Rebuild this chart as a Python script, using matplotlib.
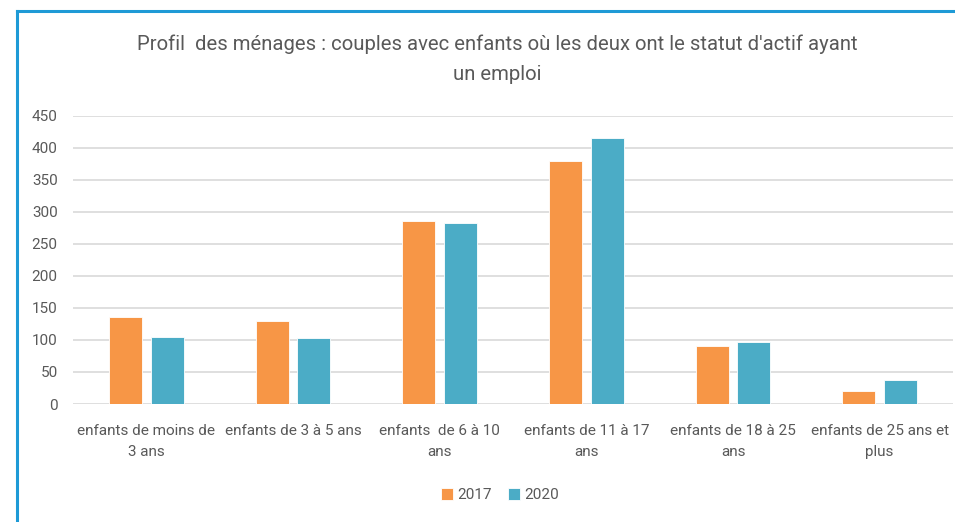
import matplotlib
matplotlib.use("Agg")
from matplotlib import pyplot as plt
from matplotlib.lines import Line2D
import numpy as np

# categories and values
categories = ["enfants de moins de\n3 ans", "enfants de 3 à 5 ans", "enfants  de 6 à 10\nans",
              "enfants de 11 à 17\nans", "enfants de 18 à 25\nans", "enfants de 25 ans et\nplus"]
values_2017 = [136, 130, 285, 380, 91, 21]
values_2020 = [105, 103, 282, 415, 96, 38]
years = ["2017", "2020"]
yticks = [0, 50, 100, 150, 200, 250, 300, 350, 400, 450]

orange = "#F79646"
blue = "#4BACC6"
grey = "#595959"

plt.rcParams['font.family'] = ['Roboto', 'DejaVu Sans']

fig = plt.figure(figsize=(9.55, 5.22), dpi=100)
ax = fig.add_axes([73/955, 118/522, 880/955, 288.3/522])

x = np.arange(len(categories))
w = 0.225
off = 0.143
ax.bar(x - off, values_2017, w, color=orange, edgecolor="white", linewidth=0.6, label=years[0], zorder=3)
ax.bar(x + off, values_2020, w, color=blue, edgecolor="white", linewidth=0.6, label=years[1], zorder=3)

ax.set_xlim(-0.5, len(categories) - 0.5)
ax.set_ylim(0, 450)
ax.set_yticks(yticks)
ax.set_yticklabels([str(v) for v in yticks], fontsize=11, color=grey)
ax.set_xticks(x)
ax.set_xticklabels(categories, fontsize=11, color=grey, linespacing=1.65)
ax.tick_params(axis="both", length=0)
ax.tick_params(axis="y", pad=11)
ax.tick_params(axis="x", pad=14.5)
ax.grid(axis="y", color="#d9d9d9", linewidth=1.2, zorder=0)
for s in ax.spines.values():
    s.set_visible(False)

fig.text(497/955, 1 - 44/522, "Profil  des ménages : couples avec enfants où les deux ont le statut d'actif ayant",
         ha="center", va="center", fontsize=14.6, color=grey)
fig.text(497/955, 1 - 75/522, "un emploi", ha="center", va="center", fontsize=14.6, color=grey)

ax.legend(loc="center", bbox_to_anchor=(500/955, 1 - 495/522), bbox_transform=fig.transFigure,
          ncol=2, frameon=False, fontsize=11, handlelength=0.8, handleheight=0.8,
          handletextpad=0.3, columnspacing=1.0, labelcolor=grey)

# blue frame around the chart
fig.add_artist(Line2D([17/955, 1], [1 - 10.5/522, 1 - 10.5/522], color="#1E9AD6", linewidth=2.2))
fig.add_artist(Line2D([17/955, 17/955], [0, 1 - 10.5/522], color="#1E9AD6", linewidth=2.2))

fig.savefig("out.png", dpi=100)
